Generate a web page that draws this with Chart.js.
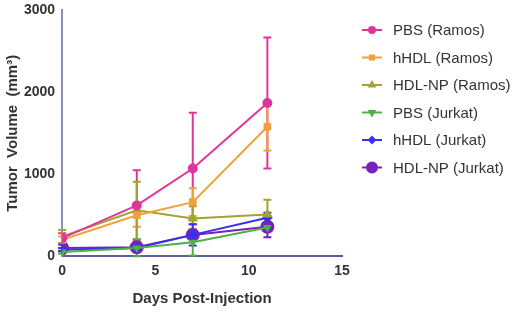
<!DOCTYPE html>
<html>
<head>
<meta charset="utf-8">
<script src="https://cdn.jsdelivr.net/npm/chart.js@4"></script>
<style>
  html, body { margin: 0; padding: 0; background: #fff; }
  #wrap { width: 520px; height: 314px; position: relative; }
</style>
</head>
<body>
<div id="wrap"><canvas id="tumorChart" width="520" height="314"></canvas></div>
<script>
const days = [0, 4, 7, 11];
const seriesNames = ['PBS (Ramos)', 'hHDL (Ramos)', 'HDL-NP (Ramos)', 'PBS (Jurkat)', 'hHDL (Jurkat)', 'HDL-NP (Jurkat)'];
const pbsRamos = [220, 620, 1070, 1870];
const hhdlRamos = [200, 500, 660, 1580];
const hdlnpRamos = [240, 560, 460, 510];
const pbsJurkat = [50, 100, 170, 350];
const hhdlJurkat = [80, 100, 260, 470];
const hdlnpJurkat = [100, 110, 260, 360];
// error bar half-widths (SEM)
const pbsRamosErr = [60, 430, 680, 800];
const hhdlRamosErr = [40, 140, 170, 290];
const hdlnpRamosErr = [80, 350, 150, 180];
const pbsJurkatErr = [20, 100, 160, 30];
const hhdlJurkatErr = [20, 30, 130, 60];
const hdlnpJurkatErr = [40, 30, 60, 130];
const xTicks = [0, 5, 10, 15];
const yTicks = [0, 1000, 2000, 3000];

const colors = ['#e0359a', '#f2a03c', '#a3a332', '#4fb04a', '#3a2ff0', '#7a22b8'];
const markers = ['circle', 'rect', 'triangle', 'triangle', 'rectRot', 'circle'];
const markerSizes = [4, 4, 4, 3, 4, 6];
const values = [pbsRamos, hhdlRamos, hdlnpRamos, pbsJurkat, hhdlJurkat, hdlnpJurkat];
const errors = [pbsRamosErr, hhdlRamosErr, hdlnpRamosErr, pbsJurkatErr, hhdlJurkatErr, hdlnpJurkatErr];

const datasets = seriesNames.map((name, i) => ({
    label: name,
    data: days.map((d, j) => ({ x: d, y: values[i][j] })),
    errors: errors[i],
    borderColor: colors[i],
    backgroundColor: colors[i],
    pointStyle: markers[i],
    pointRadius: markerSizes[i],
    pointRotation: i === 3 ? 180 : 0,
    borderWidth: 2,
    tension: 0
}));

const errorBars = {
    id: 'errorBars',
    beforeDatasetsDraw(chart) {
        const ctx = chart.ctx;
        const xs = chart.scales.x;
        const ys = chart.scales.y;
        ctx.save();
        chart.data.datasets.forEach(ds => {
            ctx.strokeStyle = ds.borderColor;
            ctx.lineWidth = 2;
            ds.data.forEach((p, j) => {
                const e = ds.errors[j];
                const px = xs.getPixelForValue(p.x);
                const top = ys.getPixelForValue(p.y + e);
                const bot = ys.getPixelForValue(Math.max(0, p.y - e));
                ctx.beginPath();
                ctx.moveTo(px, top); ctx.lineTo(px, bot);
                ctx.moveTo(px - 4, top); ctx.lineTo(px + 4, top);
                ctx.moveTo(px - 4, bot); ctx.lineTo(px + 4, bot);
                ctx.stroke();
            });
        });
        ctx.restore();
    }
};

// legend drawn by hand: short line with the marker in the middle
const sideLegend = {
    id: 'sideLegend',
    afterDraw(chart) {
        const ctx = chart.ctx;
        const x0 = 362, top = 30, step = 27.5;
        ctx.save();
        ctx.font = '15px "Liberation Sans", Arial';
        ctx.textBaseline = 'middle';
        chart.data.datasets.forEach((ds, i) => {
            const y = top + i * step;
            ctx.strokeStyle = ds.borderColor;
            ctx.lineWidth = 2;
            ctx.beginPath();
            ctx.moveTo(x0, y); ctx.lineTo(x0 + 20, y);
            ctx.stroke();
            Chart.helpers.drawPoint(ctx, {
                pointStyle: ds.pointStyle,
                radius: Math.max(3, ds.pointRadius - 1),
                rotation: ds.pointRotation,
                borderWidth: 1
            }, x0 + 10, y);
            ctx.fillStyle = ds.backgroundColor;
            ctx.fill();
            ctx.fillStyle = '#333';
            ctx.fillText(ds.label, 393, y + 1);
        });
        ctx.restore();
    }
};

const tickFont = { family: 'Liberation Sans, Arial', size: 14, weight: 'bold' };
const titleFont = { family: 'Liberation Sans, Arial', size: 15, weight: 'bold' };

new Chart(document.getElementById('tumorChart'), {
    type: 'line',
    data: { datasets: datasets },
    options: {
        responsive: false,
        animation: false,
        layout: { padding: { top: 3, right: 178, left: 0, bottom: 2 } },
        plugins: {
            legend: { display: false },
            tooltip: { enabled: false }
        },
        scales: {
            x: {
                type: 'linear',
                min: 0,
                max: 15,
                afterBuildTicks: axis => { axis.ticks = xTicks.map(v => ({ value: v })); },
                grid: { display: false, drawTicks: true, tickLength: 5, tickColor: '#5a5f9a' },
                border: { color: '#5a5f9a', width: 2 },
                ticks: { color: '#333', font: tickFont, padding: 2, callback: v => String(v) },
                title: {
                    display: true,
                    text: 'Days Post-Injection',
                    color: '#333',
                    font: titleFont,
                    padding: { top: 8 }
                }
            },
            y: {
                min: 0,
                max: 3000,
                afterBuildTicks: axis => { axis.ticks = yTicks.map(v => ({ value: v })); },
                grid: { display: false, drawTicks: true, tickLength: 5, tickColor: '#8a8fc0' },
                border: { color: '#8a8fc0', width: 2 },
                ticks: { color: '#333', font: tickFont, padding: 2, callback: v => String(v) },
                title: {
                    display: true,
                    text: 'Tumor  Volume  (mm³)',
                    color: '#333',
                    font: titleFont,
                    padding: { bottom: 0 }
                }
            }
        }
    },
    plugins: [errorBars, sideLegend]
});
</script>
</body>
</html>
